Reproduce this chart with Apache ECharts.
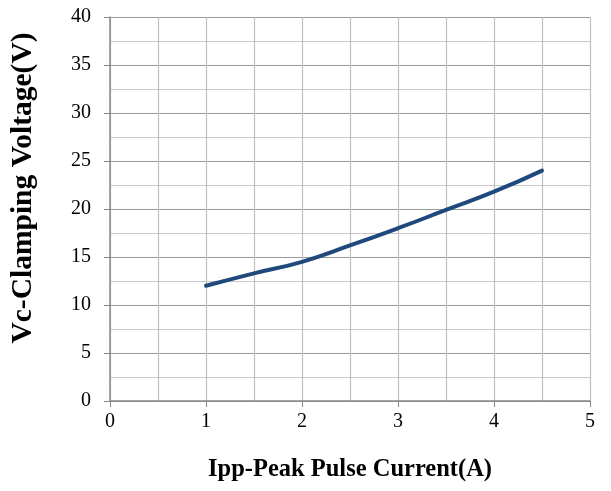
<!DOCTYPE html>
<html><head><meta charset="utf-8">
<script src="https://cdn.jsdelivr.net/npm/echarts@6/dist/echarts.min.js"></script>
<style>html,body{margin:0;padding:0;background:#fff}#c{width:611px;height:491px}</style>
</head><body><div id="c"></div>
<script>
var currentA = [1, 1.5, 2, 2.5, 3, 3.5, 4, 4.5];
var voltageV = [12, 13.3, 14.5, 16.2, 18, 19.9, 21.8, 24];
var xTitle = 'Ipp-Peak Pulse Current(A)';
var yTitle = 'Vc-Clamping Voltage(V)';
var chart = echarts.init(document.getElementById('c'));
var font = '"Liberation Serif", "Times New Roman", serif';
chart.setOption({
  animation: false,
  grid: {left: 110, right: 21, top: 17, bottom: 90},
  xAxis: {
    type: 'value', min: 0, max: 5, interval: 1,
    name: xTitle, nameLocation: 'middle', nameGap: 56,
    nameTextStyle: {fontFamily: font, fontSize: 24.5, fontWeight: 'bold', color: '#000'},
    axisLine: {lineStyle: {color: '#888', width: 1.5}},
    axisTick: {show: true, length: 6, lineStyle: {color: '#888'}},
    axisLabel: {fontFamily: font, fontSize: 20, color: '#000', margin: 11},
    splitLine: {lineStyle: {color: '#c0c0c0', width: 1.2}},
    minorTick: {show: false, splitNumber: 2},
    minorSplitLine: {show: true, lineStyle: {color: '#c0c0c0', width: 1.2}}
  },
  yAxis: {
    type: 'value', min: 0, max: 40, interval: 5,
    name: yTitle, nameLocation: 'middle', nameGap: 72,
    nameTextStyle: {fontFamily: font, fontSize: 29.5, fontWeight: 'bold', color: '#000', padding: [0, 0, 0, 42]},
    axisLine: {show: true, lineStyle: {color: '#888', width: 1.5}},
    axisTick: {show: true, length: 6, lineStyle: {color: '#888'}},
    axisLabel: {fontFamily: font, fontSize: 20, color: '#000', margin: 19},
    splitLine: {lineStyle: {color: '#999', width: 1.2}},
    minorTick: {show: false, splitNumber: 2},
    minorSplitLine: {show: true, lineStyle: {color: '#c8c8c8', width: 1.2}}
  },
  series: [{
    type: 'line', smooth: true, showSymbol: false,
    data: currentA.map(function(x, i){ return [x, voltageV[i]]; }),
    lineStyle: {color: '#1F497D', width: 4, cap: 'round'}
  }]
});
</script></body></html>
